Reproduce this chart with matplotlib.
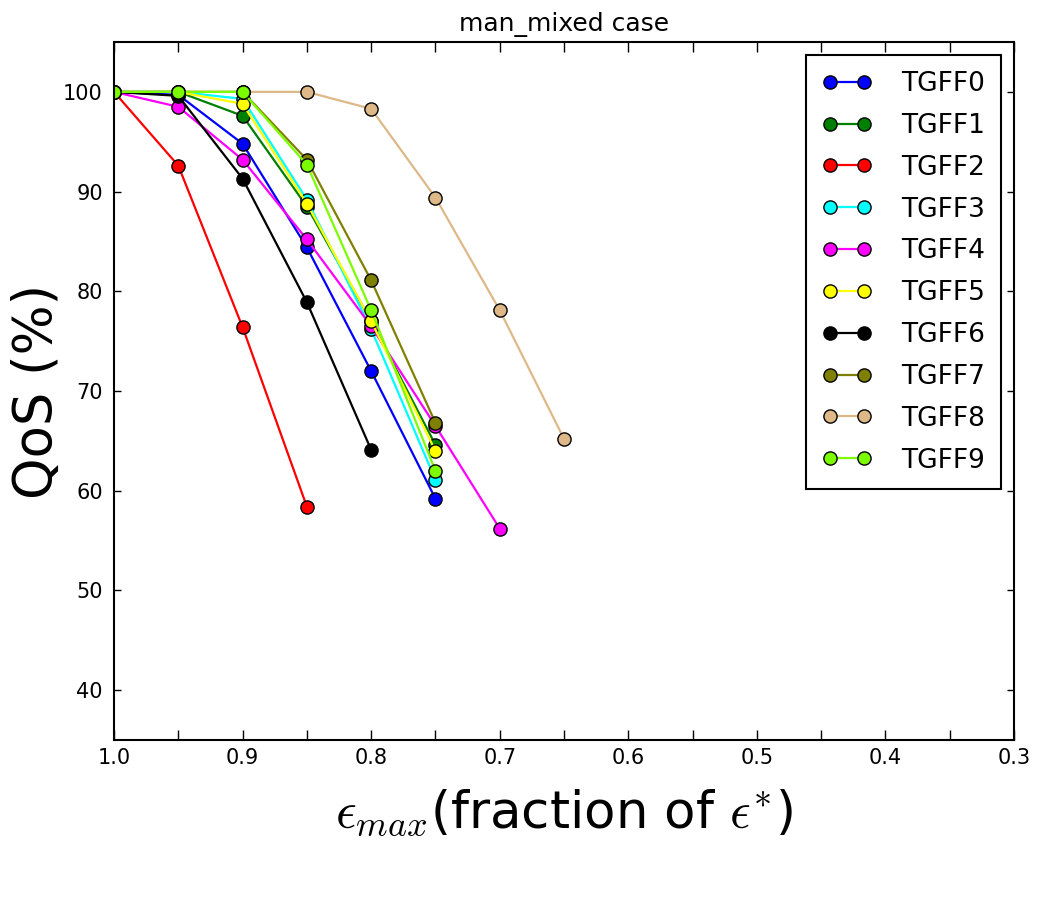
import matplotlib
matplotlib.use("Agg")
import matplotlib.pyplot as plt
from matplotlib.ticker import MultipleLocator

# data
eps = [1.0, 0.95, 0.9, 0.85, 0.8, 0.75, 0.7, 0.65]

tgff0 = [100, 99.7, 94.8, 84.4, 72.0, 59.2]
tgff1 = [100, 100, 97.6, 88.5, 77.0, 64.6]
tgff2 = [100, 92.6, 76.4, 58.4]
tgff3 = [100, 100, 99.3, 89.2, 76.2, 61.1]
tgff4 = [100, 98.5, 93.2, 85.2, 76.5, 66.5, 56.2]
tgff5 = [100, 100, 98.8, 88.8, 77.0, 64.0]
tgff6 = [100, 99.6, 91.3, 78.9, 64.1]
tgff7 = [100, 100, 100, 93.2, 81.1, 66.8]
tgff8 = [100, 100, 100, 100, 98.3, 89.4, 78.1, 65.2]
tgff9 = [100, 100, 100, 92.7, 78.1, 62.0]

series = [tgff0, tgff1, tgff2, tgff3, tgff4, tgff5, tgff6, tgff7, tgff8, tgff9]
labels = ["TGFF%d" % i for i in range(10)]
colors = ["blue", "green", "red", "cyan", "magenta", "yellow", "black",
          "olive", "burlywood", "lawngreen"]

plt.rcParams["mathtext.fontset"] = "cm"
plt.rcParams["font.family"] = "DejaVu Sans"

fig = plt.figure(figsize=(10.5, 9), dpi=100, facecolor="white")
ax = fig.add_axes([0.1086, 0.1778, 0.8571, 0.7755])

for vals, lab, col in zip(series, labels, colors):
    ax.plot(eps[:len(vals)], vals, "-o", color=col, label=lab, linewidth=1.6,
            markersize=9.5, markerfacecolor=col, markeredgecolor="black",
            markeredgewidth=1.0)

ax.set_xlim(1.0, 0.3)
ax.set_ylim(35, 105)
ax.xaxis.set_major_locator(MultipleLocator(0.1))
ax.xaxis.set_minor_locator(MultipleLocator(0.05))
ax.set_yticks([40, 50, 60, 70, 80, 90, 100])
ax.xaxis.set_major_formatter(matplotlib.ticker.FormatStrFormatter("%.1f"))

ax.tick_params(axis="both", which="both", direction="in", top=True, right=True,
               labelsize=15, width=1.0)
ax.tick_params(axis="x", which="both", length=7, pad=6)
ax.tick_params(axis="y", which="both", length=5, pad=8)
for sp in ax.spines.values():
    sp.set_linewidth(1.5)

ax.set_title("man_mixed case", fontsize=18, pad=8)
ax.set_ylabel("QoS (%)", fontsize=38, labelpad=0)
ax.set_xlabel(r"$\epsilon_{max}$(fraction of $\epsilon^{*}$)", fontsize=37,
              labelpad=14)

leg = ax.legend(loc="upper right", numpoints=2, fontsize=19, fancybox=False,
                framealpha=1.0, edgecolor="black", handlelength=1.9,
                handletextpad=1.1, labelspacing=0.6, borderpad=0.6)
leg.get_frame().set_linewidth(1.5)

fig.savefig("out.png", dpi=100, facecolor="white")
